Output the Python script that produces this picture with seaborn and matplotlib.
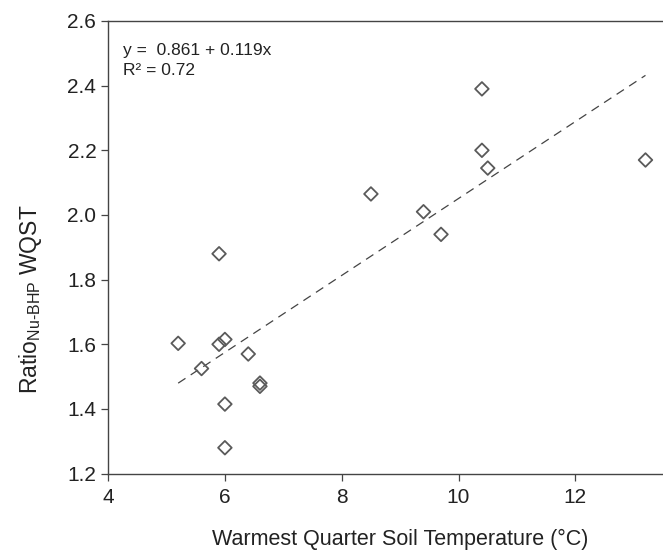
import seaborn as sns
import matplotlib.pyplot as plt
import pandas as pd
import numpy as np

# data
soil_temp = [5.2, 5.6, 5.9, 5.9, 6.0, 6.0, 6.0, 6.4, 6.6, 6.6, 8.5, 9.4, 9.7, 10.4, 10.4, 10.5, 13.2]
ratio_wqst = [1.603, 1.525, 1.88, 1.60, 1.615, 1.415, 1.28, 1.57, 1.48, 1.47, 2.065, 2.01, 1.94, 2.39, 2.20, 2.145, 2.17]
intercept = 0.861
slope = 0.119
r2 = 0.72

df = pd.DataFrame({"temp": soil_temp, "ratio": ratio_wqst})

sns.set_style("white")
plt.rcParams['font.family'] = ['Liberation Sans', 'DejaVu Sans']
plt.rcParams['mathtext.fontset'] = 'custom'
plt.rcParams['mathtext.rm'] = 'Liberation Sans'
plt.rcParams['mathtext.it'] = 'Liberation Sans'

fig, ax = plt.subplots(figsize=(6.63, 5.52), dpi=100)
fig.subplots_adjust(left=0.163, right=1.0, top=0.962, bottom=0.142)

sns.scatterplot(data=df, x="temp", y="ratio", ax=ax, marker="D", s=48,
                facecolor="none", edgecolor="#5a5a5a", linewidth=1.3, zorder=3)

# regression line
xl = np.array([min(soil_temp), max(soil_temp)])
ax.plot(xl, intercept + slope * xl, color="#444444", lw=0.9, dashes=(7, 5))

ax.text(0.027, 0.935, "y =  %.3f + %.3fx" % (intercept, slope), transform=ax.transAxes,
        fontsize=12.5, color="#222222", va="center")
ax.text(0.027, 0.89, "R² = %.2f" % r2, transform=ax.transAxes,
        fontsize=12.5, color="#222222", va="center")

ax.set_xlim(4, 13.5)
ax.set_ylim(1.2, 2.6)
ax.set_xticks([4, 6, 8, 10, 12])
ax.set_yticks([1.2, 1.4, 1.6, 1.8, 2.0, 2.2, 2.4, 2.6])
ax.set_yticklabels(["%.1f" % v for v in ax.get_yticks()])

for side in ["left", "bottom", "top"]:
    ax.spines[side].set_color("#444444")
    ax.spines[side].set_linewidth(1.0)
ax.spines["right"].set_visible(False)

ax.tick_params(axis="both", direction="out", length=5, width=0.9, color="#444444",
               labelsize=15, labelcolor="#222222", left=True, bottom=True)
ax.tick_params(axis="x", pad=5)

ax.set_xlabel("Warmest Quarter Soil Temperature (°C)", fontsize=15.5, color="#222222", va="center")
ax.xaxis.set_label_coords(0.527, -0.146)
ax.set_ylabel(r"Ratio$_{\mathrm{Nu\text{-}BHP}}$ WQST", fontsize=16.5, color="#222222", va="center")
ax.yaxis.set_label_coords(-0.139, 0.384)

plt.savefig("out.png", dpi=100)
